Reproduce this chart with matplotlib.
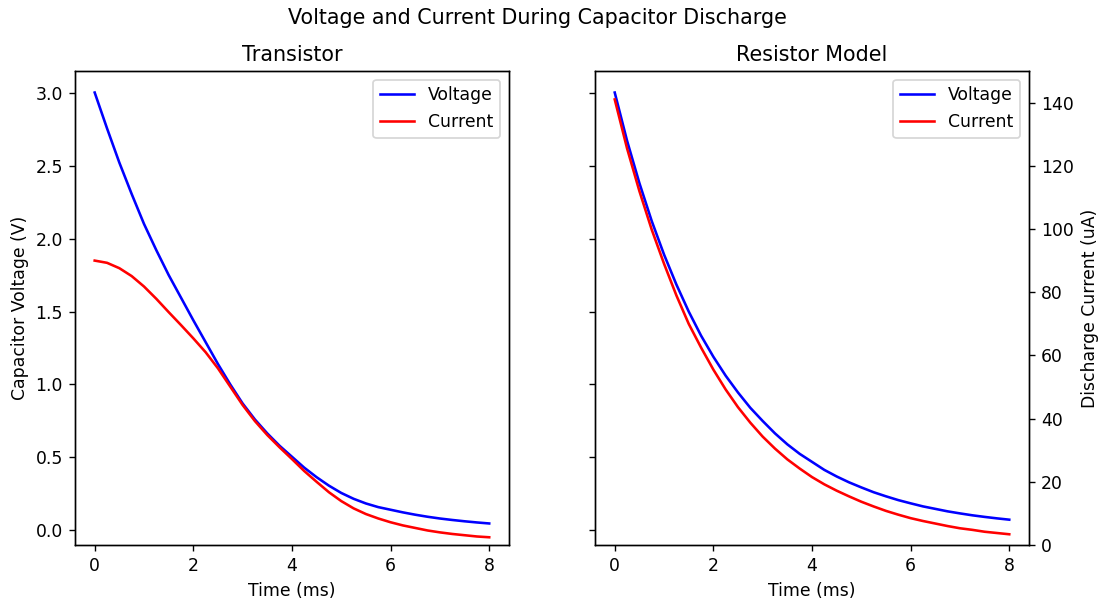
import matplotlib
matplotlib.use("Agg")
import matplotlib.pyplot as plt

# Time samples (ms)
time_ms = [0.0, 0.25, 0.5, 0.75, 1.0, 1.25, 1.5, 1.75, 2.0, 2.25, 2.5, 2.75, 3.0, 3.25,
           3.5, 3.75, 4.0, 4.25, 4.5, 4.75, 5.0, 5.25, 5.5, 5.75, 6.0, 6.25, 6.5, 6.75,
           7.0, 7.25, 7.5, 7.75, 8.0]

# Transistor model: capacitor voltage (V) and discharge current (uA)
trans_voltage = [3.00, 2.755, 2.52, 2.305, 2.10, 1.92, 1.75, 1.595, 1.44, 1.29, 1.14, 1.00,
                 0.87, 0.76, 0.665, 0.58, 0.505, 0.43, 0.365, 0.307, 0.257, 0.217, 0.185,
                 0.16, 0.142, 0.124, 0.108, 0.094, 0.082, 0.072, 0.063, 0.055, 0.048]
trans_current = [90.0, 89.3, 87.6, 85.1, 81.8, 77.9, 73.7, 69.6, 65.4, 61.0, 55.9, 50.1,
                 44.3, 39.2, 34.8, 30.9, 27.2, 23.4, 20.0, 16.7, 13.9, 11.6, 9.8, 8.4,
                 7.2, 6.2, 5.4, 4.6, 4.0, 3.5, 3.1, 2.7, 2.45]

# Resistor model
res_voltage = [3.00, 2.67, 2.38, 2.12, 1.89, 1.685, 1.50, 1.335, 1.19, 1.06, 0.945, 0.84,
               0.75, 0.665, 0.59, 0.525, 0.47, 0.415, 0.37, 0.33, 0.295, 0.262, 0.234,
               0.208, 0.186, 0.165, 0.148, 0.131, 0.117, 0.104, 0.093, 0.083, 0.074]
res_current = [141.0, 125.5, 112.0, 99.8, 89.0, 79.0, 70.0, 62.5, 55.5, 49.2, 43.6, 38.7,
               34.3, 30.5, 27.1, 24.2, 21.5, 19.2, 17.2, 15.4, 13.7, 12.2, 10.8, 9.6,
               8.5, 7.6, 6.8, 6.0, 5.3, 4.8, 4.2, 3.8, 3.4]

DPI = 124
fig = plt.figure(figsize=(1099 / DPI, 598 / DPI), dpi=DPI)
ax1 = fig.add_axes([0.0682, 0.0886, 0.3949, 0.7927])
ax2 = fig.add_axes([0.5414, 0.0886, 0.3949, 0.7927], sharey=ax1)

# Left: transistor
l1, = ax1.plot(time_ms, trans_voltage, color="blue", label="Voltage")
ax1t = ax1.twinx()
l2, = ax1t.plot(time_ms, trans_current, color="red", label="Current")
ax1t.set_ylim(0, 150)
ax1t.tick_params(right=False, labelright=False)
ax1.set_title("Transistor")
ax1.set_xlabel("Time (ms)")
ax1.set_ylabel("Capacitor Voltage (V)")
ax1t.legend([l1, l2], ["Voltage", "Current"], loc="upper right")

# Right: resistor model
r1, = ax2.plot(time_ms, res_voltage, color="blue", label="Voltage")
ax2t = ax2.twinx()
r2, = ax2t.plot(time_ms, res_current, color="red", label="Current")
ax2t.set_ylim(0, 150)
ax2t.set_ylabel("Discharge Current (uA)")
ax2.set_title("Resistor Model")
ax2.set_xlabel("Time (ms)")
ax2.tick_params(labelleft=False)
ax2t.legend([r1, r2], ["Voltage", "Current"], loc="upper right")

ax1.set_ylim(-0.0996, 3.1476)
ax1.set_yticks([0.0, 0.5, 1.0, 1.5, 2.0, 2.5, 3.0])
ax1.set_xticks([0, 2, 4, 6, 8])
ax2.set_xticks([0, 2, 4, 6, 8])
ax1.set_xlim(-0.4, 8.4)
ax2.set_xlim(-0.4, 8.4)

fig.suptitle("Voltage and Current During Capacitor Discharge", x=0.489, y=0.987)
fig.savefig("out.png", dpi=DPI)
